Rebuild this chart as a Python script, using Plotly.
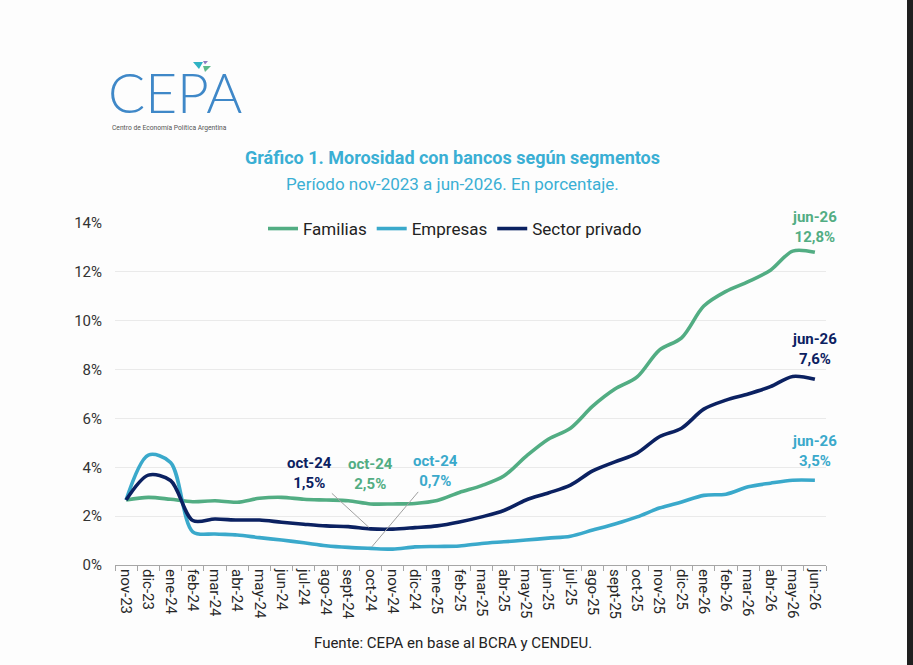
import plotly.graph_objects as go

meses = ["nov-23", "dic-23", "ene-24", "feb-24", "mar-24", "abr-24", "may-24", "jun-24",
         "jul-24", "ago-24", "sept-24", "oct-24", "nov-24", "dic-24", "ene-25", "feb-25",
         "mar-25", "abr-25", "may-25", "jun-25", "jul-25", "ago-25", "sept-25", "oct-25",
         "nov-25", "dic-25", "ene-26", "feb-26", "mar-26", "abr-26", "may-26", "jun-26"]

familias = [2.66, 2.77, 2.69, 2.59, 2.63, 2.57, 2.73, 2.77, 2.69, 2.66, 2.63, 2.50,
            2.50, 2.52, 2.64, 2.97, 3.25, 3.64, 4.45, 5.15, 5.60, 6.50, 7.20, 7.70,
            8.80, 9.30, 10.60, 11.20, 11.60, 12.07, 12.85, 12.80]

empresas = [2.66, 4.50, 4.20, 1.36, 1.27, 1.23, 1.12, 1.02, 0.91, 0.79, 0.72, 0.68,
            0.65, 0.74, 0.76, 0.78, 0.88, 0.95, 1.02, 1.10, 1.18, 1.43, 1.68, 1.97,
            2.33, 2.58, 2.85, 2.90, 3.20, 3.35, 3.47, 3.47]

sector_privado = [2.66, 3.68, 3.46, 1.82, 1.88, 1.84, 1.84, 1.75, 1.67, 1.60, 1.57, 1.48,
                  1.47, 1.53, 1.60, 1.76, 1.97, 2.23, 2.66, 2.95, 3.27, 3.85, 4.22, 4.58,
                  5.25, 5.60, 6.38, 6.75, 7.00, 7.30, 7.72, 7.60]

series_names = ["Familias", "Empresas", "Sector privado"]
series_values = [familias, empresas, sector_privado]
colors = ["#52AD83", "#3AA9CB", "#0B2161"]

FONT = "Roboto"

fig = go.Figure()
for name, vals, col in zip(series_names, series_values, colors):
    fig.add_trace(go.Scatter(
        x=meses, y=vals, name=name, mode="lines",
        line=dict(color=col, width=3.6, shape="spline", smoothing=0.9),
        hoverinfo="skip",
    ))


def fmt(v):
    return f"{v:.1f}".replace(".", ",")


LBL = 15
# oct-24 labels
i_oct = meses.index("oct-24")
fig.add_annotation(x=meses[i_oct], y=sector_privado[i_oct], xref="x", yref="y",
                   text=f"<b>{meses[i_oct]}<br>{fmt(sector_privado[i_oct])}%</b>",
                   showarrow=True, arrowhead=0, arrowwidth=1, arrowcolor="#A0A0A0",
                   ax=-61, ay=-56, standoff=2,
                   font=dict(family=FONT, size=LBL, color=colors[2]), align="center")
fig.add_annotation(x=meses[i_oct], y=familias[i_oct], xref="x", yref="y",
                   text=f"<b>{meses[i_oct]}<br>{fmt(familias[i_oct])}%</b>",
                   showarrow=False, yshift=30,
                   font=dict(family=FONT, size=LBL, color=colors[0]), align="center")
fig.add_annotation(x=meses[i_oct], y=empresas[i_oct], xref="x", yref="y",
                   text=f"<b>{meses[i_oct]}<br>{fmt(empresas[i_oct])}%</b>",
                   showarrow=True, arrowhead=0, arrowwidth=1, arrowcolor="#A0A0A0",
                   ax=65, ay=-77, standoff=2,
                   font=dict(family=FONT, size=LBL, color=colors[1]), align="center")

# jun-26 labels
i_end = len(meses) - 1
for vals, col, shift in zip(series_values, colors, [25, 29, 30]):
    fig.add_annotation(x=meses[i_end], y=vals[i_end], xref="x", yref="y",
                       text=f"<b>{meses[i_end]}<br>{fmt(vals[i_end])}%</b>",
                       showarrow=False, yshift=shift,
                       font=dict(family=FONT, size=LBL, color=col), align="center")


def px(X):
    return (X - 115) / 711


def py(Y):
    return (565 - Y) / 342


# Titles
fig.add_annotation(x=px(452), y=py(158), xref="paper", yref="paper", showarrow=False,
                   xanchor="center", yanchor="middle",
                   text="<b>Gráfico 1. Morosidad con bancos según segmentos</b>",
                   font=dict(family=FONT, size=18, color="#3AAFD4"))
fig.add_annotation(x=px(452), y=py(184), xref="paper", yref="paper", showarrow=False,
                   xanchor="center", yanchor="middle",
                   text="Período nov-2023 a jun-2026. En porcentaje.",
                   font=dict(family=FONT, size=17, color="#3AAFD4"))
# Source
fig.add_annotation(x=px(453), y=py(643), xref="paper", yref="paper", showarrow=False,
                   xanchor="center", yanchor="middle",
                   text="Fuente: CEPA en base al BCRA y CENDEU.",
                   font=dict(family=FONT, size=15, color="#222222"))

# Logo
fig.add_annotation(x=px(107), y=py(126), xref="paper", yref="paper",
                   xanchor="left", yanchor="bottom", showarrow=False, borderpad=0,
                   text="CEPA", font=dict(family="Lato", size=55, color="#3F88C8", weight=300))
fig.add_annotation(x=px(111), y=py(127.5), xref="paper", yref="paper",
                   xanchor="left", yanchor="middle", showarrow=False, borderpad=0,
                   text="Centro de Economía Política Argentina",
                   font=dict(family=FONT, size=6.7, color="#555555"))


def tri(pts, col):
    d = "M " + " L ".join(f"{px(a):.4f},{py(b):.4f}" for a, b in pts) + " Z"
    fig.add_shape(type="path", path=d, xref="paper", yref="paper",
                  fillcolor=col, line=dict(width=0), layer="above")


tri([(193, 62), (203, 62), (199, 69)], "#2FB3C4")
tri([(203, 61), (208, 61), (205, 64.5)], "#8E7CC3")
tri([(203, 66), (211, 66), (205, 72)], "#5DB88A")

# right dark edge
fig.add_shape(type="rect", xref="paper", yref="paper",
              x0=px(907), x1=px(915), y0=py(668), y1=py(-3),
              fillcolor="#1F1F1F", line=dict(width=0), layer="above")

fig.update_layout(
    width=913, height=665,
    margin=dict(l=115, r=87, t=223, b=100),
    paper_bgcolor="#FDFDFD", plot_bgcolor="#FDFDFD",
    font=dict(family=FONT, size=15, color="#404040"),
    showlegend=True,
    legend=dict(orientation="h", x=px(455), xanchor="center", y=py(229), yanchor="middle",
                font=dict(family=FONT, size=17, color="#222222"),
                bgcolor="rgba(0,0,0,0)", itemwidth=30, tracegroupgap=0),
    xaxis=dict(type="category", range=[-0.5, len(meses) - 0.5],
               showgrid=False, showline=True, linecolor="#A6A6A6",
               linewidth=1, ticks="outside", ticklen=5, tickcolor="#A6A6A6",
               tickson="boundaries", tickangle=90,
               tickfont=dict(family=FONT, size=15, color="#262626"),
               fixedrange=True),
    yaxis=dict(range=[0, 14], dtick=2, ticksuffix="%", showgrid=True,
               gridcolor="#EAEAEA", gridwidth=1, zeroline=False, showline=False,
               tickfont=dict(family=FONT, size=15, color="#333333"),
               ticklabelstandoff=12, fixedrange=True),
)

fig.write_html("out.html", config={"displayModeBar": False},
               post_script="document.body.style.margin='0px';")
